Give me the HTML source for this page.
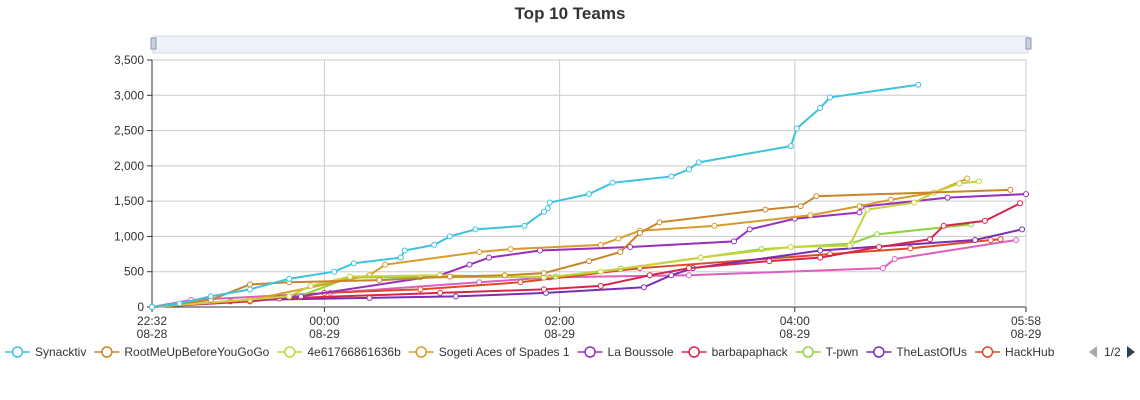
<!DOCTYPE html>
<html><head><meta charset="utf-8"><style>
body{margin:0;background:#fff;font-family:"Liberation Sans",sans-serif;}
#wrap{position:relative;width:1140px;height:400px;overflow:hidden;}
</style></head><body>
<div id="wrap">
<svg id="chart" width="1140" height="400" xmlns="http://www.w3.org/2000/svg">
<text x="570" y="19" text-anchor="middle" font-size="17" font-weight="bold" fill="#333">Top 10 Teams</text>
<g>
<rect x="153" y="36" width="875" height="17" fill="#eef2f8" stroke="#d6dce6"/>
<rect x="151" y="38" width="5" height="11" fill="#c9d0de" stroke="#8c99b3"/>
<rect x="1026" y="38" width="5" height="11" fill="#c9d0de" stroke="#8c99b3"/>
</g>
<g id="grid"></g><g id="axes"></g><g id="series"></g><g id="legend"></g>
</svg>
</div>
<script>
const NS="http://www.w3.org/2000/svg";
// time in minutes since 22:32 (08-28)
const teams=["Synacktiv","RootMeUpBeforeYouGoGo","4e61766861636b","Sogeti Aces of Spades 1","La Boussole","barbapaphack","T-pwn","TheLastOfUs","HackHub","Team11"];
const colors=["#3cc3dd","#c8862a","#c6d33a","#d79b2a","#9a2dbe","#d92648","#8fd33c","#7a2db5","#dd4b26","#dd5fbf"];
const t0=[0,14,30,50,70,93,103,127,129,144,152,165,190,200,202,203,223,235,265,274,279,326,329,341,346,391];
const v0=[0,50,150,250,400,500,620,700,800,880,1000,1100,1150,1350,1400,1480,1600,1760,1850,1950,2050,2280,2530,2820,2970,3150];
const t1=[0,30,50,70,116,152,180,200,223,239,249,259,313,331,339,438];
const v1=[0,100,320,350,380,430,450,480,650,780,1050,1200,1380,1430,1570,1660];
const t2=[0,70,81,101,147,200,229,280,326,356,365,389,399,412,422];
const v2=[0,150,300,430,450,420,500,700,850,870,1380,1480,1620,1750,1780];
const t3=[0,50,111,119,167,183,229,238,249,287,336,361,377,399,416];
const v3=[0,100,450,600,780,820,880,970,1080,1150,1300,1430,1520,1620,1820];
const t4=[0,76,147,162,172,198,244,297,305,328,361,362,406,446];
const v4=[0,150,450,600,700,800,850,930,1100,1250,1340,1420,1550,1600];
const t5=[0,50,65,147,200,229,254,274,315,341,371,397,404,425,443];
const v5=[0,80,120,200,250,300,450,550,650,700,850,960,1150,1220,1470];
const t6=[0,75,101,137,206,239,280,311,357,370,418];
const v6=[0,150,420,420,430,540,700,820,900,1030,1170];
const t7=[0,50,111,155,201,251,265,276,341,420,444];
const v7=[0,100,130,150,200,280,450,550,800,950,1100];
const t8=[0,40,88,137,188,249,346,387,428,433];
const v8=[0,80,200,250,350,550,750,830,950,960];
const t9=[0,20,91,167,203,274,373,379,441];
const v9=[0,100,200,350,420,450,550,680,950];
const times=[t0,t1,t2,t3,t4,t5,t6,t7,t8,t9];
const vals=[v0,v1,v2,v3,v4,v5,v6,v7,v8,v9];
const yTicks=[0,500,1000,1500,2000,2500,3000,3500];
const yTickLabels=["0","500","1,000","1,500","2,000","2,500","3,000","3,500"];
const xTicks=[0,88,208,328,446];
const xTickLabels=[["22:32","08-28"],["00:00","08-29"],["02:00","08-29"],["04:00","08-29"],["05:58","08-29"]];
const L=152,R=1026,T=60,B=307,TMAX=446,VMAX=3500;
const xs=t=>L+t*(R-L)/TMAX, ys=v=>B-v*(B-T)/VMAX;
function mk(tag,attrs,parent){const e=document.createElementNS(NS,tag);for(const k in attrs)e.setAttribute(k,attrs[k]);parent.appendChild(e);return e;}
const grid=document.getElementById('grid'),axes=document.getElementById('axes');
yTicks.forEach((v,i)=>{
 const l=mk('line',{x1:L,x2:R,y1:ys(v),y2:ys(v),stroke:i==0?'#333':'#ccc','stroke-width':1},grid);
 
 
 mk('line',{x1:L-5,x2:L,y1:ys(v),y2:ys(v),stroke:'#333'},axes);
 const tx=mk('text',{x:L-8,y:ys(v)+4,'text-anchor':'end','font-size':12,fill:'#333'},axes);
 tx.textContent=yTickLabels[i];
 
 
});
mk('line',{x1:L,x2:L,y1:T,y2:B,stroke:'#333'},axes);
xTicks.forEach((t,i)=>{
 const l=mk('line',{x1:xs(t),x2:xs(t),y1:T,y2:B,stroke:'#ccc'},grid);
 
 
 mk('line',{x1:xs(t),x2:xs(t),y1:B,y2:B+5,stroke:'#333'},axes);
 xTickLabels[i].forEach((s,j)=>{
  const tx=mk('text',{x:xs(t),y:325+j*13,'text-anchor':'middle','font-size':12,fill:'#333'},axes);
  tx.textContent=s;
  
  
 });
});
const sg=document.getElementById('series');
for(let s=teams.length-1;s>=0;s--){
 const g=mk('g',{},sg);
 
 
 const pts=times[s].map((t,i)=>xs(t)+','+ys(vals[s][i])).join(' ');
 const pl=mk('polyline',{points:pts,fill:'none',stroke:colors[s],'stroke-width':2},g);
 
 
 times[s].forEach((t,i)=>{
  const c=mk('circle',{cx:xs(t),cy:ys(vals[s][i]),r:2.5,fill:'#fff',stroke:colors[s],'stroke-width':1},g);
  
  
 });
}
const lg=document.getElementById('legend');
let lx=5;
for(let i=0;i<9;i++){
 const g=mk('g',{},lg);
 
 
 mk('line',{x1:lx,x2:lx+25,y1:352,y2:352,stroke:colors[i],'stroke-width':1.5},g);
 mk('circle',{cx:lx+12.5,cy:352,r:5,fill:'#fff',stroke:colors[i],'stroke-width':1.5},g);
 const tx=mk('text',{x:lx+30,y:356,'font-size':12,fill:'#333'},g);
 tx.textContent=teams[i];
 lx+=30+tx.getComputedTextLength()+8;
}
const pg=mk('g',{},lg);


const a1=mk('path',{d:'M1097,346 L1089,352 L1097,358 Z',fill:'#aaa'},pg);


const pt=mk('text',{x:1104,y:356,'font-size':12,fill:'#333'},pg);pt.textContent='1/2';
const a2=mk('path',{d:'M1127,346 L1135,352 L1127,358 Z',fill:'#2f4554'},pg);


</script>
</body></html>
